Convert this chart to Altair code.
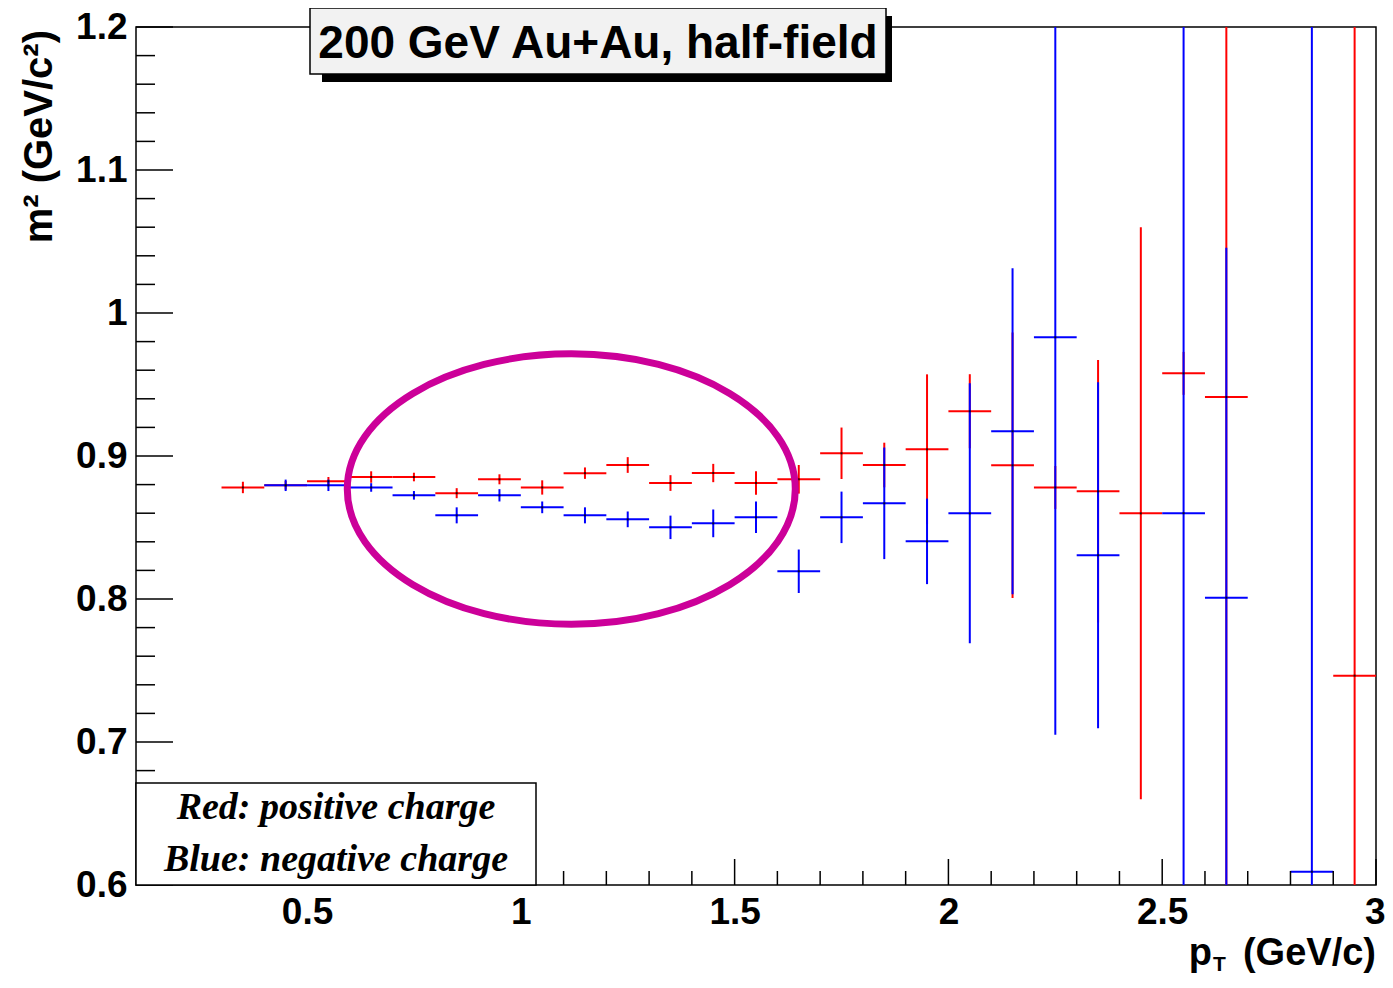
import altair as alt
import pandas as pd

# ---- data ----
pt_pos = [0.35, 0.45, 0.55, 0.65, 0.75, 0.85, 0.95, 1.05, 1.15, 1.25, 1.35, 1.45, 1.55,
          1.65, 1.75, 1.85, 1.95, 2.05, 2.15, 2.25, 2.35, 2.45, 2.55, 2.65, 2.95]
m2_pos = [0.878, 0.8795, 0.8823, 0.8853, 0.8853, 0.874, 0.8837, 0.878, 0.888, 0.8937, 0.8811,
          0.8881, 0.8811, 0.8837, 0.9019, 0.8937, 0.9047, 0.9313, 0.8935, 0.878, 0.8753,
          0.8599, 0.9578, 0.9413, 0.7464]
err_pos = [0.004, 0.003, 0.003, 0.004, 0.003, 0.0035, 0.0035, 0.005, 0.004, 0.0055, 0.0055,
           0.0064, 0.0082, 0.010, 0.018, 0.0156, 0.0524, 0.0259, 0.0928, 0.015, 0.0918,
           0.2, 0.015, 0.35, 0.6]

pt_neg = [0.45, 0.55, 0.65, 0.75, 0.85, 0.95, 1.05, 1.15, 1.25, 1.35, 1.45, 1.55, 1.65,
          1.75, 1.85, 1.95, 2.05, 2.15, 2.25, 2.35, 2.55, 2.65, 2.85]
m2_neg = [0.8795, 0.8795, 0.878, 0.8725, 0.8585, 0.8725, 0.8641, 0.8585, 0.8557, 0.8501,
          0.8529, 0.8571, 0.8194, 0.8571, 0.8669, 0.8403, 0.8599, 0.9173, 0.983, 0.8306,
          0.86, 0.8009, 0.6093]
err_neg = [0.004, 0.004, 0.003, 0.003, 0.0056, 0.0043, 0.0041, 0.0056, 0.0055, 0.0082,
           0.0097, 0.011, 0.0152, 0.018, 0.039, 0.0299, 0.0909, 0.114, 0.278, 0.121,
           0.6, 0.2448, 0.7]

half_bin = 0.05

x_major = [0.5, 1.0, 1.5, 2.0, 2.5, 3.0]
x_minor = [0.2, 0.3, 0.4, 0.6, 0.7, 0.8, 0.9, 1.1, 1.2, 1.3, 1.4, 1.6, 1.7, 1.8, 1.9,
           2.1, 2.2, 2.3, 2.4, 2.6, 2.7, 2.8, 2.9]
y_major = [0.6, 0.7, 0.8, 0.9, 1.0, 1.1, 1.2]
y_minor = [0.62, 0.64, 0.66, 0.68, 0.72, 0.74, 0.76, 0.78, 0.82, 0.84, 0.86, 0.88,
           0.92, 0.94, 0.96, 0.98, 1.02, 1.04, 1.06, 1.08, 1.12, 1.14, 1.16, 1.18]

ellipse_cx = [1.118]
ellipse_cy = [0.8769]

title_text = ["200 GeV Au+Au, half-field"]
legend_lines = ["Red: positive charge", "Blue: negative charge"]
y_title = ["m² (GeV/c²)"]
x_title = ["p", "T", "(GeV/c)"]

# ---- layout constants ----
W, H = 1240, 858
RED, BLUE, MAG = "#ff0000", "#0000ff", "#cc0099"
SANS, SERIF = "Liberation Sans", "Liberation Serif"

xs = alt.Scale(domain=[0.1, 3.0], nice=False, zero=False)
ys = alt.Scale(domain=[0.6, 1.2], nice=False, zero=False)
xax = alt.Axis(values=x_major, format="~g", title=None, domain=False, ticks=False, tickSize=0,
               grid=False, labelFont=SANS, labelFontWeight="bold", labelFontSize=37,
               labelColor="black", labelPadding=9, labelFlush=True, labelFlushOffset=9,
               labelOverlap=False)
yax = alt.Axis(values=y_major, format="~g", title=None, domain=False, ticks=False, tickSize=0,
               grid=False, labelFont=SANS, labelFontWeight="bold", labelFontSize=37,
               labelColor="black", labelPadding=9, labelOverlap=False)


def X(f):
    return alt.X(f, type="quantitative", scale=xs, axis=xax)


def Y(f):
    return alt.Y(f, type="quantitative", scale=ys, axis=yax)


def series(pt, m2, err):
    d = pd.DataFrame({"pt": pt, "m2": m2, "err": err})
    d["lo"] = d["m2"] - d["err"]
    d["hi"] = d["m2"] + d["err"]
    d["xl"] = d["pt"] - half_bin
    d["xr"] = d["pt"] + half_bin
    return d


dpos = series(pt_pos, m2_pos, err_pos)
dneg = series(pt_neg, m2_neg, err_neg)


def bars(d, color):
    v = alt.Chart(d).mark_rule(color=color, strokeWidth=2, clip=True).encode(
        x=X("pt"), y=Y("lo"), y2="hi")
    h = alt.Chart(d).mark_rule(color=color, strokeWidth=2, clip=True).encode(
        x=X("xl"), x2="xr", y=Y("m2"))
    return [v, h]


dots = alt.Chart(pd.concat([dpos, dneg])).mark_square(
    color="black", size=4, opacity=0.8, clip=True).encode(x=X("pt"), y=Y("m2"))

# ticks (inward, ROOT style)
tdf_xM = pd.DataFrame({"v": x_major})
tdf_xm = pd.DataFrame({"v": x_minor})
tdf_yM = pd.DataFrame({"v": y_major})
tdf_ym = pd.DataFrame({"v": y_minor})
ticks = [
    alt.Chart(tdf_xM).mark_rule(color="black", strokeWidth=1.5).encode(
        x=X("v"), y=alt.value(H), y2=alt.value(H - 26)),
    alt.Chart(tdf_xm).mark_rule(color="black", strokeWidth=1.5).encode(
        x=X("v"), y=alt.value(H), y2=alt.value(H - 14)),
    alt.Chart(tdf_yM).mark_rule(color="black", strokeWidth=1.5).encode(
        y=Y("v"), x=alt.value(0), x2=alt.value(37)),
    alt.Chart(tdf_ym).mark_rule(color="black", strokeWidth=1.5).encode(
        y=Y("v"), x=alt.value(0), x2=alt.value(19)),
]

ell_path = ("M 1 0 C 1 0.3334 0.5523 0.6036 0 0.6036 C -0.5523 0.6036 -1 0.3334 -1 0 "
            "C -1 -0.3334 -0.5523 -0.6036 0 -0.6036 C 0.5523 -0.6036 1 -0.3334 1 0 Z")
ellipse = alt.Chart(pd.DataFrame({"cx": ellipse_cx, "cy": ellipse_cy})).mark_point(
    shape=ell_path, size=448 ** 2, filled=False, color=MAG, strokeWidth=7, opacity=1
).encode(x=X("cx"), y=Y("cy"))

one = pd.DataFrame({"a": [0]})

legend_box = alt.Chart(one).mark_rect(fill="white", stroke="black", strokeWidth=1.5).encode(
    x=alt.value(0), x2=alt.value(400), y=alt.value(756), y2=alt.value(H))
legend_txt = alt.Chart(pd.DataFrame({"t": legend_lines, "yy": [792, 844]})).mark_text(
    font=SERIF, fontSize=38, fontWeight="bold", fontStyle="italic", color="black",
    align="center", baseline="alphabetic").encode(
    text="t:N", x=alt.value(200), y=alt.Y("yy:Q", scale=None, axis=None))

shadow = alt.Chart(one).mark_rect(fill="black").encode(
    x=alt.value(186), x2=alt.value(756), y=alt.value(-11), y2=alt.value(55))
tbox = alt.Chart(one).mark_rect(fill="#f2f2f2", stroke="black", strokeWidth=1.5).encode(
    x=alt.value(174), x2=alt.value(750), y=alt.value(-19), y2=alt.value(47))
ttxt = alt.Chart(pd.DataFrame({"t": title_text})).mark_text(
    font=SANS, fontSize=46, fontWeight="bold", color="black", align="center",
    baseline="alphabetic").encode(text="t:N", x=alt.value(462), y=alt.value(31))

ytitle = alt.Chart(pd.DataFrame({"t": y_title})).mark_text(
    font=SANS, fontSize=40, fontWeight="bold", color="black", angle=270,
    align="right", baseline="middle").encode(text="t:N", x=alt.value(-96), y=alt.value(3))

xt_p = alt.Chart(pd.DataFrame({"t": [x_title[0]]})).mark_text(
    font=SANS, fontSize=38, fontWeight="bold", color="black", align="right",
    baseline="alphabetic").encode(text="t:N", x=alt.value(1076), y=alt.value(938))
xt_T = alt.Chart(pd.DataFrame({"t": [x_title[1]]})).mark_text(
    font=SANS, fontSize=21, fontWeight="bold", color="black", align="left",
    baseline="alphabetic").encode(text="t:N", x=alt.value(1077), y=alt.value(944))
xt_u = alt.Chart(pd.DataFrame({"t": [x_title[2]]})).mark_text(
    font=SANS, fontSize=38, fontWeight="bold", color="black", align="right",
    baseline="alphabetic").encode(text="t:N", x=alt.value(W), y=alt.value(938))

layers = (bars(dpos, RED) + bars(dneg, BLUE) + [dots] + ticks +
          [ellipse, legend_box, legend_txt, shadow, tbox, ttxt, ytitle, xt_p, xt_T, xt_u])

chart = alt.layer(*layers).properties(
    width=W, height=H,
    autosize=alt.AutoSizeParams(type="none"),
    padding={"left": 128, "top": 19, "right": 9, "bottom": 89},
    background="white",
).configure_view(stroke="black", strokeWidth=1.5)

chart.save("out.html", embed_options={"renderer": "svg", "actions": False})
